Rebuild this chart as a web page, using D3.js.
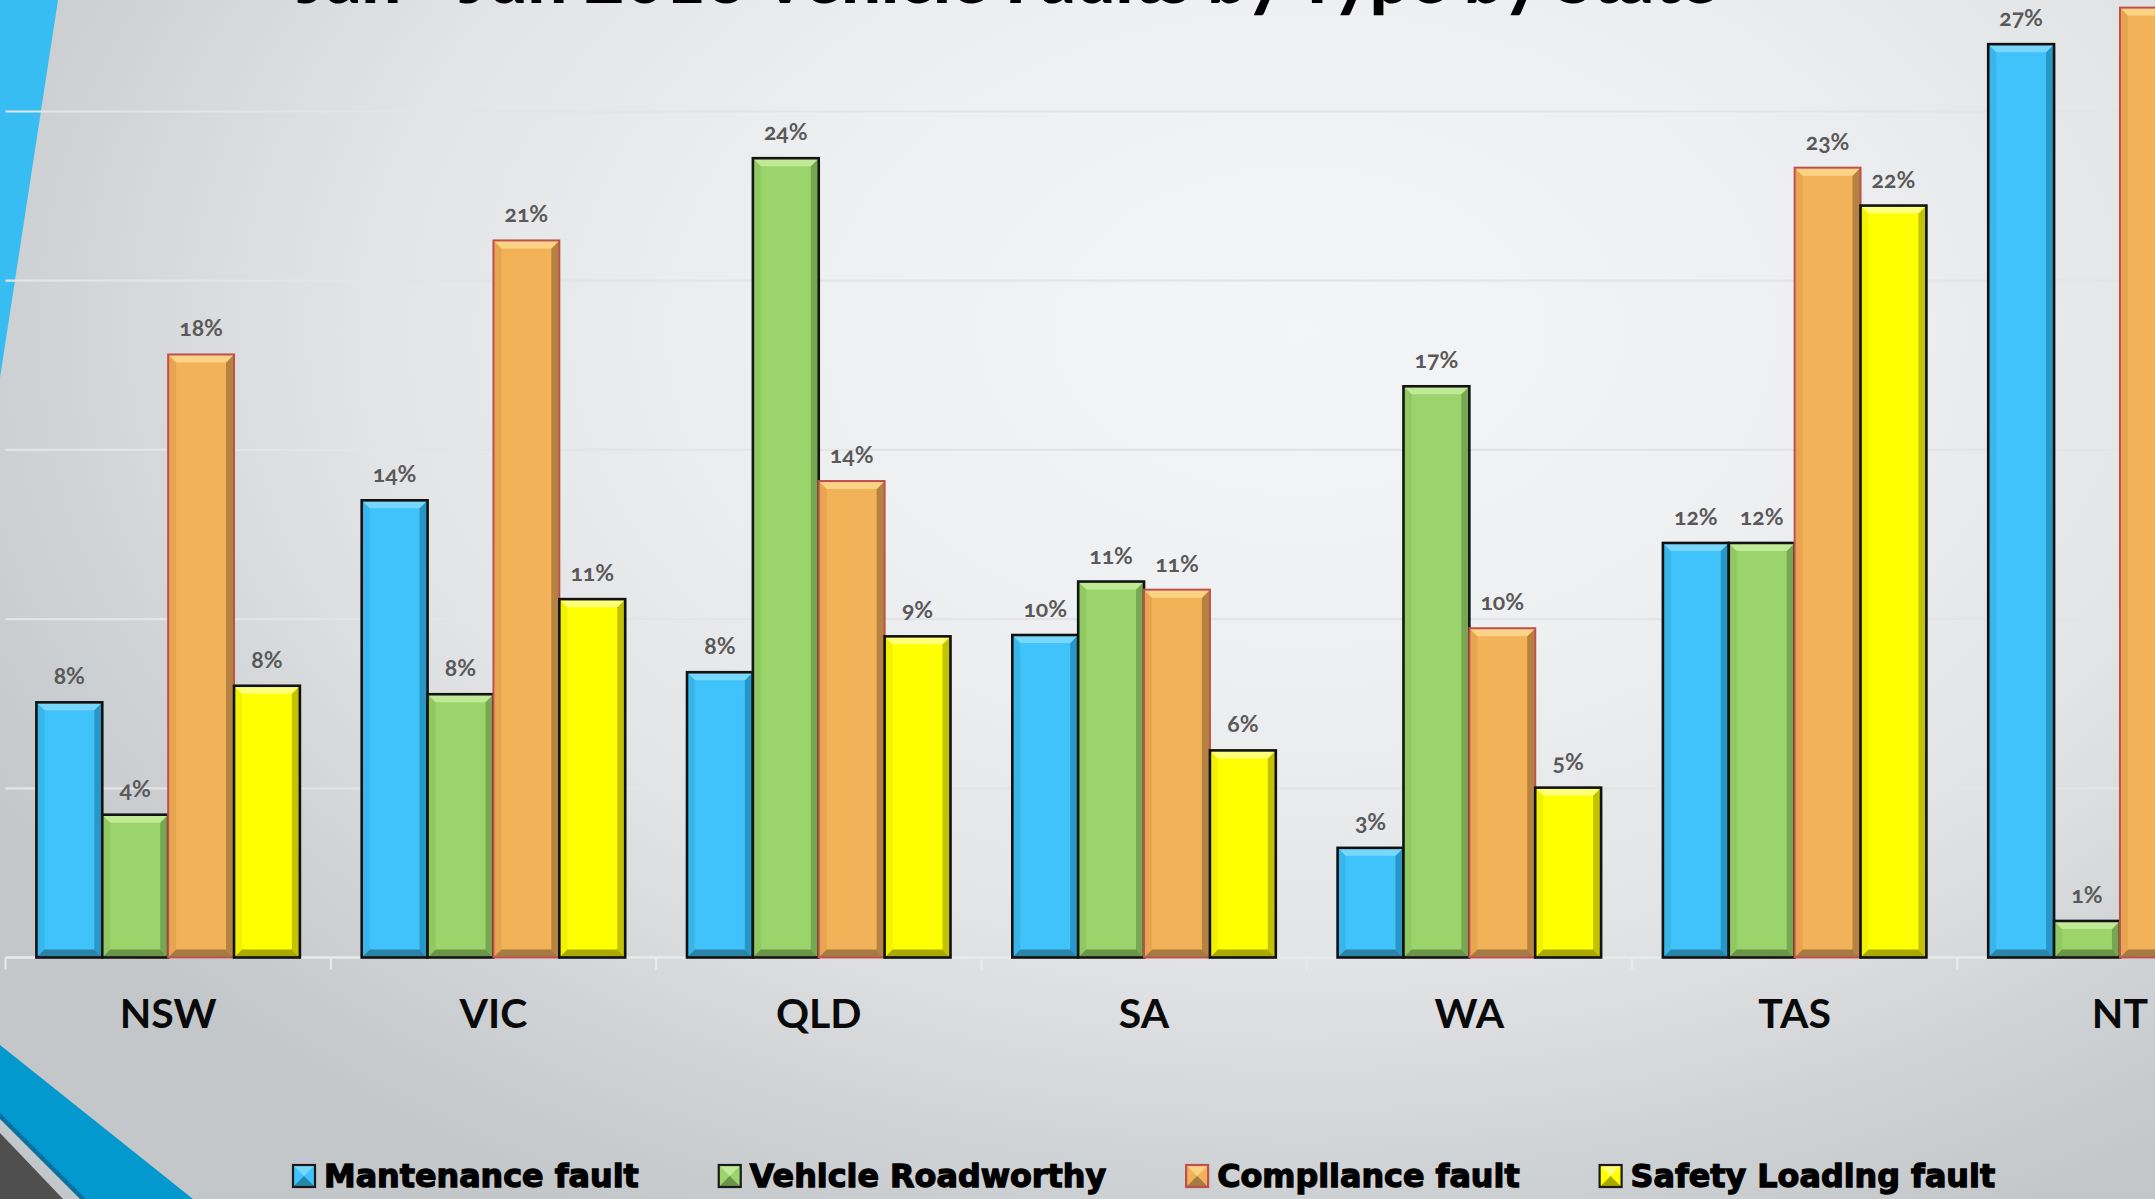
<!DOCTYPE html>
<html>
<head>
<meta charset="utf-8">
<script src="https://cdn.jsdelivr.net/npm/d3@7"></script>
<style>
  html, body { margin: 0; padding: 0; overflow: hidden; background: #e4e5e7; }
  svg { display: block; }
</style>
</head>
<body>
<svg id="chart" width="2155" height="1199"></svg>
<script>
// ---------------- DATA ----------------
const title = "Jan - Jun 2016 Vehicle Faults by Type by State";
const states = ["NSW", "VIC", "QLD", "SA", "WA", "TAS", "NT"];
const seriesNames = ["Mantenance fault", "Vehicle Roadworthy", "Compliance fault", "Safety Loading fault"];
const maintenanceFault = [7.54, 13.51, 8.43, 9.53, 3.24, 12.25, 26.99];
const vehicleRoadworthy = [4.22, 7.78, 23.62, 11.11, 16.88, 12.25, 1.08];
const complianceFault = [17.82, 21.19, 14.08, 10.87, 9.73, 23.34, 28.07];
const safetyLoadingFault = [8.03, 10.59, 9.49, 6.12, 5.02, 22.22, 18.0]; // NT value lies outside the frame (estimate)
const yTicks = [0, 5, 10, 15, 20, 25, 30];

// ---------------- STYLE ----------------
const W = 2155, H = 1199;
const palette = [
  { base: "#3fc3fa", light: "#79d7fc", left: "#38b6ec", right: "#2897c8", dark: "#2b84a8", stroke: "#111111", sw: 2.6 },
  { base: "#9bd46b", light: "#c1ea97", left: "#90c862", right: "#77a752", dark: "#6b9449", stroke: "#141414", sw: 2.6 },
  { base: "#f2b257", light: "#fbd386", left: "#e7a54f", right: "#b58241", dark: "#a67a43", stroke: "#c0504d", sw: 2.0 },
  { base: "#ffff00", light: "#ffff7a", left: "#f2f200", right: "#c2c200", dark: "#a9a900", stroke: "#111111", sw: 2.6 }
];
const seriesValues = [maintenanceFault, vehicleRoadworthy, complianceFault, safetyLoadingFault];

const svg = d3.select("#chart");
const defs = svg.append("defs");

// background gradient
const bg = defs.append("radialGradient")
  .attr("id", "bgGrad")
  .attr("gradientUnits", "userSpaceOnUse")
  .attr("cx", 1300).attr("cy", 330).attr("r", 1000)
  .attr("fx", 1300).attr("fy", 330)
  .attr("gradientTransform", "translate(1300,330) scale(1.5,1) translate(-1300,-330)");
[[0, "#f4f5f6"], [0.35, "#eeeff0"], [0.62, "#e3e4e6"], [0.85, "#cfd2d4"], [1, "#c3c7c9"]]
  .forEach(([o, c]) => bg.append("stop").attr("offset", o).attr("stop-color", c));

svg.append("rect").attr("width", W).attr("height", H).attr("fill", "url(#bgGrad)");

// slide decorations
svg.append("polygon").attr("points", "0,0 58,0 0,378").attr("fill", "#38bdf2");
svg.append("polygon").attr("points", "0,1045 193,1199 0,1199").attr("fill", "#0399cf");
svg.append("polygon").attr("points", "0,1113 86,1199 0,1199").attr("fill", "#0b71a0");
svg.append("polygon").attr("points", "0,1119 80,1199 0,1199").attr("fill", "#c3c7c9");
svg.append("polygon").attr("points", "0,1133 63,1199 0,1199").attr("fill", "#4f4f4f");

// ---------------- SCALES ----------------
const x0 = d3.scaleBand()
  .domain(states)
  .range([5.5, 5.5 + 7 * 325.3])
  .paddingInner(0.19)
  .paddingOuter(0.095);

const x1 = d3.scaleBand()
  .domain(seriesNames)
  .range([0, x0.bandwidth()])
  .padding(0);

const y = d3.scaleLinear().domain([0, 30]).range([957.5, 957.5 - 30 * 33.84]);

// gridlines
const plot = svg.append("g");
plot.append("g").selectAll("line")
  .data(yTicks.filter(t => t > 0))
  .join("line")
  .attr("x1", x0.range()[0]).attr("x2", x0.range()[1] + 20)
  .attr("y1", d => y(d)).attr("y2", d => y(d))
  .attr("stroke", "#e3e4e5").attr("stroke-width", 2.2);

// axis line + boundary ticks
plot.append("line")
  .attr("x1", x0.range()[0]).attr("x2", x0.range()[1] + 20)
  .attr("y1", y(0)).attr("y2", y(0))
  .attr("stroke", "#e9eaeb").attr("stroke-width", 2.5);
plot.append("g").selectAll("line")
  .data(d3.range(states.length + 1))
  .join("line")
  .attr("x1", i => x0.range()[0] + i * x0.step())
  .attr("x2", i => x0.range()[0] + i * x0.step())
  .attr("y1", y(0)).attr("y2", y(0) + 12)
  .attr("stroke", "#e9eaeb").attr("stroke-width", 2);

// ---------------- BARS ----------------
const rows = [];
states.forEach((s, si) => {
  seriesNames.forEach((n, ni) => rows.push({ state: s, series: n, si: ni, value: seriesValues[ni][si] }));
});

const bev = 8;
const pts = a => a.map(p => p.join(",")).join(" ");

const bars = plot.append("g").selectAll("g.bar")
  .data(rows)
  .join("g")
  .attr("class", "bar");

bars.each(function (d) {
  const g = d3.select(this);
  const c = palette[d.si];
  const x = x0(d.state) + x1(d.series);
  const w = x1.bandwidth();
  const yt = y(d.value);
  const h = y(0) - yt;
  const b = Math.min(bev, h / 2, w / 2);
  g.append("rect").attr("x", x).attr("y", yt).attr("width", w).attr("height", h).attr("fill", c.base);
  g.append("polygon").attr("points", pts([[x, yt], [x + b, yt + b], [x + b, y(0) - b], [x, y(0)]])).attr("fill", c.left);
  g.append("polygon").attr("points", pts([[x + w, yt], [x + w - b, yt + b], [x + w - b, y(0) - b], [x + w, y(0)]])).attr("fill", c.right);
  g.append("polygon").attr("points", pts([[x, yt], [x + w, yt], [x + w - b, yt + b], [x + b, yt + b]])).attr("fill", c.light);
  g.append("polygon").attr("points", pts([[x, y(0)], [x + w, y(0)], [x + w - b, y(0) - b], [x + b, y(0) - b]])).attr("fill", c.dark);
  g.append("rect").attr("x", x).attr("y", yt).attr("width", w).attr("height", h)
    .attr("fill", "none").attr("stroke", c.stroke).attr("stroke-width", c.sw);
});

// data labels (only those that fall inside the frame, as in the reference)
const fmt = d3.format(".0%");
plot.append("g").selectAll("text")
  .data(rows.filter(d => {
    const cx = x0(d.state) + x1(d.series) + x1.bandwidth() / 2;
    return cx + 25 < W && y(d.value) - 40 > 0;
  }))
  .join("text")
  .attr("x", d => x0(d.state) + x1(d.series) + x1.bandwidth() / 2)
  .attr("y", d => y(d.value) - 18)
  .attr("text-anchor", "middle")
  .attr("font-family", "Lato, 'Open Sans', sans-serif")
  .attr("font-weight", 700)
  .attr("font-size", 23)
  .style("font-variant-numeric", "oldstyle-nums")
  .style("font-feature-settings", "'onum' 1")
  .attr("fill", "#595959")
  .text(d => fmt(d.value / 100));

// category labels
plot.append("g").selectAll("text")
  .data(states)
  .join("text")
  .attr("x", d => x0(d) + x0.bandwidth() / 2)
  .attr("y", 1028)
  .attr("text-anchor", "middle")
  .attr("font-family", "Lato, 'Open Sans', sans-serif")
  .attr("font-weight", 700)
  .attr("font-size", 41)
  .attr("fill", "#0a0a0a")
  .text(d => d);

// ---------------- LEGEND ----------------
const legend = svg.append("g");
let lx = 293;
seriesNames.forEach((n, i) => {
  const c = palette[i];
  const g = legend.append("g");
  const s = 22, top = 1165;
  g.append("rect").attr("x", lx).attr("y", top).attr("width", s).attr("height", s).attr("fill", c.base);
  g.append("polygon").attr("points", pts([[lx, top], [lx + s, top], [lx + s / 2, top + s / 2]])).attr("fill", c.light);
  g.append("polygon").attr("points", pts([[lx, top + s], [lx + s, top + s], [lx + s / 2, top + s / 2]])).attr("fill", c.dark);
  g.append("rect").attr("x", lx).attr("y", top).attr("width", s).attr("height", s)
    .attr("fill", "none").attr("stroke", i === 2 ? "#c0504d" : "#1a1a1a").attr("stroke-width", 2.2);
  const t = g.append("text")
    .attr("x", lx + s + 9)
    .attr("y", 1187)
    .attr("font-family", "'DejaVu Sans', Verdana, sans-serif")
    .attr("font-weight", 700)
    .attr("font-size", 31.8)
    .attr("fill", "#000")
    .attr("stroke", "#000").attr("stroke-width", 1.3)
    .text(n);
  lx += s + 9 + t.node().getComputedTextLength() + 80;
});

// ---------------- TITLE (mostly outside the frame, as in the reference) ----------------
svg.append("text")
  .attr("x", 1007)
  .attr("y", 3)
  .attr("text-anchor", "middle")
  .attr("font-family", "Lato, 'Open Sans', sans-serif")
  .attr("font-weight", 900)
  .attr("font-size", 70)
  .attr("fill", "#000")
  .text(title);
</script>
</body>
</html>
